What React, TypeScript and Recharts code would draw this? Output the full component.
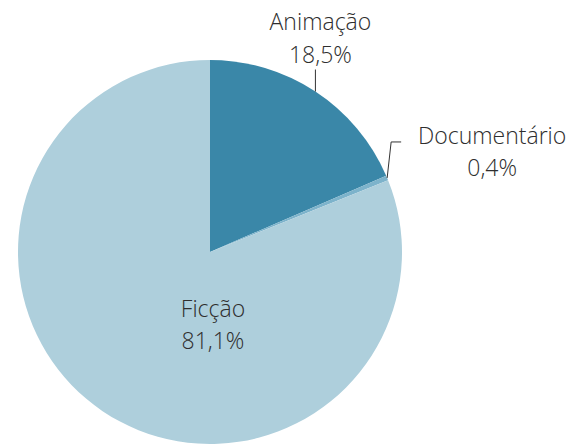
import { PieChart, Pie, Cell } from "recharts";

const categories = ["Animação", "Documentário", "Ficção"];
const shares = [18.5, 0.4, 81.1];
const shareLabels = ["18,5%", "0,4%", "81,1%"];
const colors = ["#3a87a8", "#7db3cb", "#aecfdc"];

const data = categories.map((name, i) => ({ name, value: shares[i], label: shareLabels[i] }));

const RADIAN = Math.PI / 180;
const textStyle = { fontFamily: "'Open Sans', sans-serif", fontSize: 23, fontWeight: 300, fill: "#2e2e2e" };

function renderLabel(props: any) {
  const { cx, cy, outerRadius, midAngle, index } = props;
  const item = data[index];
  const px = cx + outerRadius * Math.cos(-midAngle * RADIAN);
  const py = cy + outerRadius * Math.sin(-midAngle * RADIAN);

  if (index === 0) {
    // leader goes straight up to the label
    return (
      <g>
        <line x1={px} y1={py} x2={px} y2={py - 22} stroke="#333" strokeWidth={1} />
        <text x={px + 5} y={py - 62} textAnchor="middle" style={textStyle}>{item.name}</text>
        <text x={px + 5} y={py - 29} textAnchor="middle" style={textStyle}>{item.label}</text>
      </g>
    );
  }
  if (index === 1) {
    return (
      <g>
        <polyline
          points={`${px},${py} ${px + 4},${py - 36} ${px + 14},${py - 36}`}
          fill="none"
          stroke="#333"
          strokeWidth={1}
        />
        <text x={px + 105} y={py - 34} textAnchor="middle" style={textStyle}>{item.name}</text>
        <text x={px + 105} y={py - 2} textAnchor="middle" style={textStyle}>{item.label}</text>
      </g>
    );
  }
  return (
    <g>
      <text x={cx + 3} y={cy + 65} textAnchor="middle" style={textStyle}>{item.name}</text>
      <text x={cx + 3} y={cy + 97} textAnchor="middle" style={textStyle}>{item.label}</text>
    </g>
  );
}

export default function App() {
  return (
    <div style={{ position: "absolute", left: 0, top: 0, background: "#fff" }}>
      <PieChart width={580} height={446}>
        <Pie
          data={data}
          dataKey="value"
          nameKey="name"
          cx={205}
          cy={247}
          outerRadius={192}
          startAngle={90}
          endAngle={-270}
          stroke="none"
          label={renderLabel}
          labelLine={false}
          isAnimationActive={false}
        >
          {data.map((d, i) => (
            <Cell key={d.name} fill={colors[i]} />
          ))}
        </Pie>
      </PieChart>
    </div>
  );
}
